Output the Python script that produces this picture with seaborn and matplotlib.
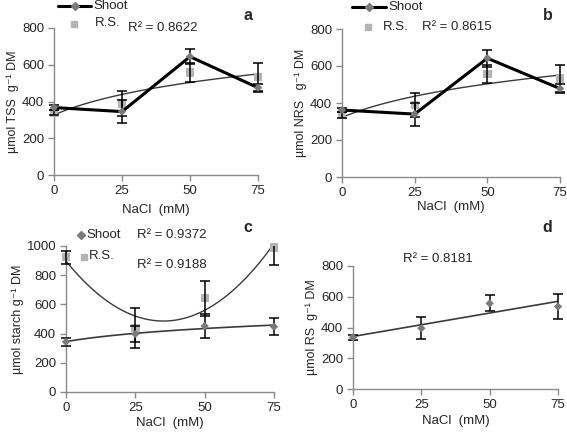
import numpy as np
import pandas as pd
import seaborn as sns
import matplotlib.pyplot as plt
from matplotlib.lines import Line2D
from matplotlib.patches import Rectangle

# NaCl levels (mM)
nacl = [0, 25, 50, 75]

# panel a - total soluble sugars
tss_shoot = [367, 345, 644, 475]
tss_shoot_err = [12, 62, 40, 22]
tss_rs = [340, 390, 557, 532]
tss_rs_err = [15, 67, 50, 75]

# panel b - non-reducing sugars
nrs_shoot = [362, 340, 642, 478]
nrs_shoot_err = [12, 62, 45, 25]
nrs_rs = [335, 388, 558, 532]
nrs_rs_err = [18, 65, 50, 72]

# panel c - starch
starch_shoot = [344, 397, 452, 447]
starch_shoot_err = [28, 55, 85, 60]
starch_rs = [924, 438, 642, 989]
starch_rs_err = [45, 135, 120, 120]

# panel d - reducing sugars
rs_shoot = [336, 395, 557, 536]
rs_shoot_err = [18, 72, 52, 80]

r2_labels = {"a": ["R² = 0.8622"], "b": ["R² = 0.8615"],
             "c": ["R² = 0.9372", "R² = 0.9188"], "d": ["R² = 0.8181"]}

SHOOT_C = "#7a7a7a"
RS_C = "#b4b4b4"
TREND_C = "#3a3a3a"
AXIS_C = "#8a8a8a"
FS = 9.5


def trend(x, y, kind):
    # excel style trendline on category index 1..4
    t = np.asarray(x) / 25 + 1
    grid = np.linspace(1, 4, 120)
    if kind == "log":
        coef = np.polyfit(np.log(t), y, 1)
        fit = np.polyval(coef, np.log(grid))
    elif kind == "poly2":
        coef = np.polyfit(t, y, 2)
        fit = np.polyval(coef, grid)
    else:
        coef = np.polyfit(t, y, 1)
        fit = np.polyval(coef, grid)
    return (grid - 1) * 25, fit


def errbars(ax, y, err, top):
    eb = ax.errorbar(nacl, y, yerr=err, fmt="none", ecolor="black",
                     elinewidth=1.1, capsize=3.5, capthick=1.1, zorder=5)
    clip = Rectangle((-10, 0), 95, top, transform=ax.transData)
    for art in list(eb[1]) + list(eb[2]):
        art.set_clip_on(True)
        art.set_clip_path(clip)


def style_axis(ax, top, step, ylabel, xpad=4):
    ax.set_xlim(0, 75)
    ax.set_ylim(0, top)
    ax.set_xticks(nacl)
    ax.set_xticklabels([str(v) for v in nacl])
    ax.set_yticks(np.arange(0, top + 1, step))
    for s in ["top", "right"]:
        ax.spines[s].set_visible(False)
    for s in ["left", "bottom"]:
        ax.spines[s].set_color(AXIS_C)
        ax.spines[s].set_linewidth(1)
    ax.tick_params(axis="both", direction="out", length=4, width=1,
                   color=AXIS_C, labelsize=FS, pad=3, left=True, bottom=True)
    ax.set_xlabel("NaCl  (mM)", fontsize=FS, labelpad=xpad)
    ax.set_ylabel(ylabel, fontsize=FS - 0.5, labelpad=2)
    ax.grid(False)


sns.set_theme(style="white")
plt.rcParams["font.family"] = ["Liberation Sans", "DejaVu Sans"]

fig = plt.figure(figsize=(5.67, 4.33), dpi=100)
W, H = 567, 433


def fx(px):
    return px / W


def fy(py):
    return 1 - py / H


def add_axes(x0, x1, y0, y1):
    return fig.add_axes([fx(x0), fy(y0), (x1 - x0) / W, (y0 - y1) / H])


ax_a = add_axes(54, 258, 175, 28)
ax_b = add_axes(342, 560, 177, 29)
ax_c = add_axes(66, 274, 392, 246)
ax_d = add_axes(353, 558, 389, 266)

# panels a and b
for ax, shoot, s_err, rs, r_err, lab, pad in [
        (ax_a, tss_shoot, tss_shoot_err, tss_rs, tss_rs_err, "µmol TSS  g⁻¹ DM", 5),
        (ax_b, nrs_shoot, nrs_shoot_err, nrs_rs, nrs_rs_err, "µmol NRS   g⁻¹ DM", 1.5)]:
    gx, gy = trend(nacl, rs, "log")
    sns.lineplot(x=gx, y=gy, ax=ax, color=TREND_C, lw=1, sort=False)
    sns.scatterplot(x=nacl, y=rs, ax=ax, marker="s", s=36, color=RS_C,
                    edgecolor="none", clip_on=False, zorder=3)
    sns.lineplot(x=nacl, y=shoot, ax=ax, color="black", lw=2.2, zorder=4)
    sns.scatterplot(x=nacl, y=shoot, ax=ax, marker="D", s=18, color=SHOOT_C,
                    edgecolor="none", clip_on=False, zorder=6)
    errbars(ax, shoot, s_err, 800)
    errbars(ax, rs, r_err, 800)
    style_axis(ax, 800, 200, lab, xpad=pad)

# panel c
gx, gy = trend(nacl, starch_rs, "poly2")
sns.lineplot(x=gx, y=gy, ax=ax_c, color=TREND_C, lw=1, sort=False)
gx, gy = trend(nacl, starch_shoot, "log")
sns.lineplot(x=gx, y=gy, ax=ax_c, color=TREND_C, lw=1.2, sort=False)
sns.scatterplot(x=nacl, y=starch_rs, ax=ax_c, marker="s", s=36, color=RS_C,
                edgecolor="none", clip_on=False, zorder=3)
sns.scatterplot(x=nacl, y=starch_shoot, ax=ax_c, marker="D", s=18, color=SHOOT_C,
                edgecolor="none", clip_on=False, zorder=6)
errbars(ax_c, starch_shoot, starch_shoot_err, 1000)
errbars(ax_c, starch_rs, starch_rs_err, 1000)
style_axis(ax_c, 1000, 200, "µmol starch g⁻¹ DM", xpad=2.5)

# panel d
gx, gy = trend(nacl, rs_shoot, "linear")
sns.lineplot(x=gx, y=gy, ax=ax_d, color=TREND_C, lw=1.2, sort=False)
sns.scatterplot(x=nacl, y=rs_shoot, ax=ax_d, marker="D", s=18, color=SHOOT_C,
                edgecolor="none", clip_on=False, zorder=6)
errbars(ax_d, rs_shoot, rs_shoot_err, 800)
style_axis(ax_d, 800, 200, "µmol RS  g⁻¹ DM", xpad=3)


# hand-placed legends, excel style
def legend_line(x0, x1, y):
    fig.add_artist(Line2D([fx(x0), fx(x1)], [fy(y), fy(y)], color="black", lw=2.2,
                          transform=fig.transFigure))
    fig.add_artist(Line2D([fx((x0 + x1) / 2)], [fy(y)], ls="none", marker="D",
                          markersize=4, color=SHOOT_C, transform=fig.transFigure))


def legend_marker(x, y, marker, color, size):
    fig.add_artist(Line2D([fx(x)], [fy(y)], ls="none", marker=marker,
                          markersize=size, color=color, transform=fig.transFigure))


legend_line(58, 91, 6)
fig.text(fx(93), fy(6), "Shoot", fontsize=FS, va="center")
legend_marker(74, 24, "s", RS_C, 5)
fig.text(fx(95), fy(23), "R.S.", fontsize=FS, va="center")

legend_line(352, 386, 7)
fig.text(fx(388), fy(7), "Shoot", fontsize=FS, va="center")
legend_marker(368, 27, "s", RS_C, 5)
fig.text(fx(383), fy(27), "R.S.", fontsize=FS, va="center")

legend_marker(81, 235, "D", SHOOT_C, 4)
fig.text(fx(86), fy(235), "Shoot", fontsize=FS, va="center")
legend_marker(84, 257, "s", RS_C, 5)
fig.text(fx(89), fy(256), "R.S.", fontsize=FS, va="center")

# R² texts and panel letters
fig.text(fx(128), fy(28), r2_labels["a"][0], fontsize=FS, va="center")
fig.text(fx(422), fy(27), r2_labels["b"][0], fontsize=FS, va="center")
fig.text(fx(137), fy(235), r2_labels["c"][0], fontsize=FS, va="center")
fig.text(fx(137), fy(265), r2_labels["c"][1], fontsize=FS, va="center")
fig.text(fx(403), fy(259), r2_labels["d"][0], fontsize=FS, va="center")

for letter, x, y in [("a", 248, 15), ("b", 548, 15), ("c", 248, 227), ("d", 547, 227)]:
    fig.text(fx(x), fy(y), letter, fontsize=11.5, fontweight="bold",
             ha="center", va="center")

fig.savefig("out.png", dpi=100)
